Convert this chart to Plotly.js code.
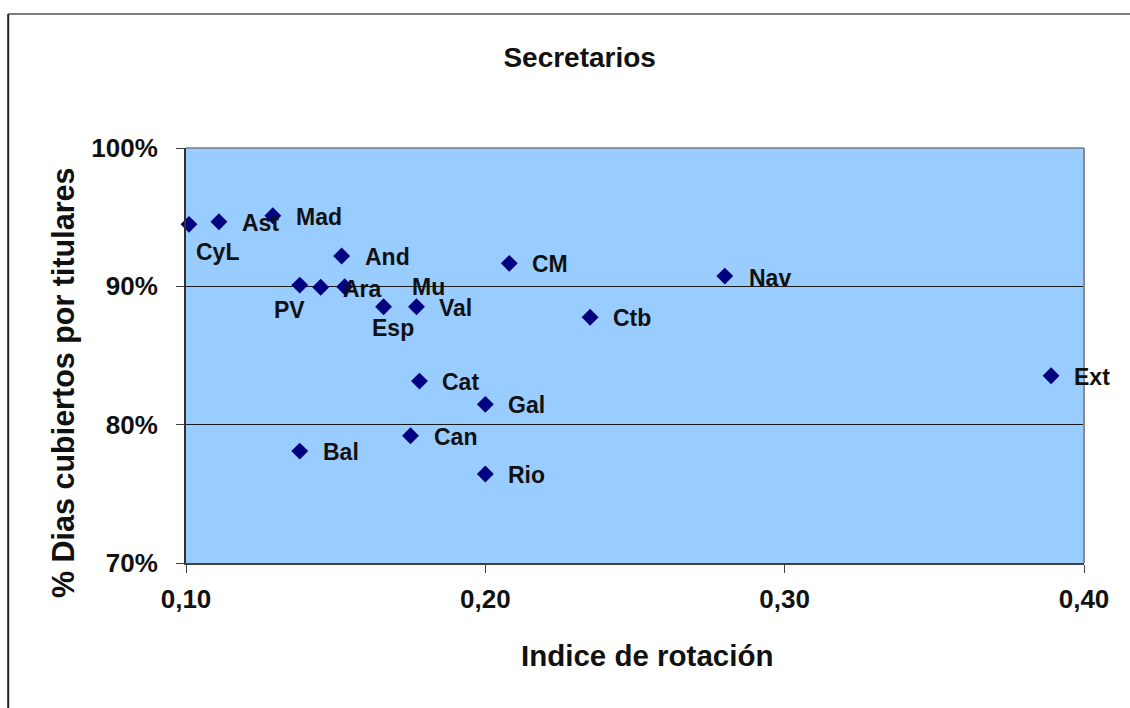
<!DOCTYPE html>
<html>
<head>
<meta charset="utf-8">
<script src="https://cdn.plot.ly/plotly-3.0.1.min.js"></script>
<style>html,body{margin:0;padding:0;background:#fff;}</style>
</head>
<body>
<div id="chart" style="width:1130px;height:708px;"></div>
<script>
// Data
const regions = ["CyL","Ast","Mad","And","PV","Ara","Mu","Esp","Val","CM","Ctb","Cat","Gal","Can","Rio","Bal","Nav","Ext"];
const rotacion = [0.101,0.111,0.129,0.152,0.138,0.145,0.153,0.166,0.177,0.208,0.235,0.178,0.200,0.175,0.200,0.138,0.280,0.389];
const diasCubiertos = [0.9448,0.9467,0.9510,0.9219,0.9009,0.8993,0.8997,0.8852,0.8852,0.9166,0.8776,0.8315,0.8147,0.7920,0.7643,0.7809,0.9074,0.8354];
const yTickVals = [0.70,0.80,0.90,1.00];
const xTickVals = [0.10,0.20,0.30,0.40];

// Label placement (style only): [xanchor, xshift, yshift]
const labelPlacement = {
  CyL:["center",29,-28], PV:["center",-10,-25], Esp:["center",9,-21],
  Ara:["left",20,-2], Mu:["left",65,0], Nav:["left",22,-2]
};

const FONT = "Liberation Sans, Arial, sans-serif";

const annotations = regions.map((r,i)=>{
  const p = labelPlacement[r] || ["left",21,-1];
  return {
    x: rotacion[i], y: diasCubiertos[i], xref:"x", yref:"y",
    text: r, showarrow:false, xanchor:p[0], yanchor:"middle",
    xshift:p[1], yshift:p[2],
    font:{family:FONT, size:23, color:"#111", weight:"bold"}
  };
});

annotations.push({
  text:"Indice de rotación", xref:"paper", yref:"paper",
  x:0.5134, y:-0.2217, xanchor:"center", yanchor:"middle", showarrow:false,
  font:{family:FONT, size:29.5, color:"#111", weight:"bold"}
});
annotations.push({
  text:"% Dias cubiertos por titulares", xref:"paper", yref:"paper",
  x:-0.137, y:0.436, xanchor:"center", yanchor:"middle", showarrow:false, textangle:-90,
  font:{family:FONT, size:30.5, color:"#111", weight:"bold"}
});

const trace = {
  type:"scatter", mode:"markers",
  x: rotacion, y: diasCubiertos, text: regions,
  marker:{symbol:"diamond", size:13, color:"#000080"},
  hoverinfo:"text+x+y", cliponaxis:false
};

const layout = {
  width:1130, height:708,
  separators:",.",
  margin:{l:186, r:46, t:148, b:145, pad:0},
  paper_bgcolor:"#ffffff",
  plot_bgcolor:"#99CCFF",
  showlegend:false,
  title:{text:"Secretarios", x:0.513, xref:"container", xanchor:"center",
         y:0.9195, yref:"container", yanchor:"middle",
         font:{family:FONT, size:28, color:"#111", weight:"bold"}},
  xaxis:{
    range:[0.10,0.40], tickvals:xTickVals, tickformat:".2f",
    showgrid:false, zeroline:false,
    showline:true, linecolor:"#404040", linewidth:2,
    ticks:"outside", ticklen:8, tickcolor:"#404040",
    tickfont:{family:FONT, size:26, color:"#111", weight:"bold"},
    ticklabelstandoff:4, automargin:false, fixedrange:true
  },
  yaxis:{
    range:[0.70,1.00], tickvals:yTickVals, tickformat:".0%",
    showgrid:true, gridcolor:"#1a1a1a", gridwidth:1,
    zeroline:false,
    showline:true, linecolor:"#303030", linewidth:2,
    ticks:"outside", ticklen:8, tickcolor:"#404040",
    tickfont:{family:FONT, size:26, color:"#111", weight:"bold"},
    ticklabelstandoff:13, automargin:false, fixedrange:true
  },
  shapes:[
    {type:"line", xref:"paper", yref:"paper", x0:1, x1:1, y0:0, y1:1,
     line:{color:"#8a8a8a", width:2}},
    {type:"line", xref:"paper", yref:"paper", x0:0, x1:1, y0:1, y1:1,
     line:{color:"#7a7a7a", width:1.5}},
    {type:"line", xref:"paper", yref:"paper", x0:-0.198, x1:1.06, y0:1.323, y1:1.323,
     line:{color:"#555", width:1.5}},
    {type:"line", xref:"paper", yref:"paper", x0:-0.198, x1:-0.198, y0:-0.37, y1:1.323,
     line:{color:"#222", width:2}}
  ],
  annotations: annotations
};

Plotly.newPlot("chart",[trace],layout,{displayModeBar:false, staticPlot:true});
</script>
</body>
</html>
